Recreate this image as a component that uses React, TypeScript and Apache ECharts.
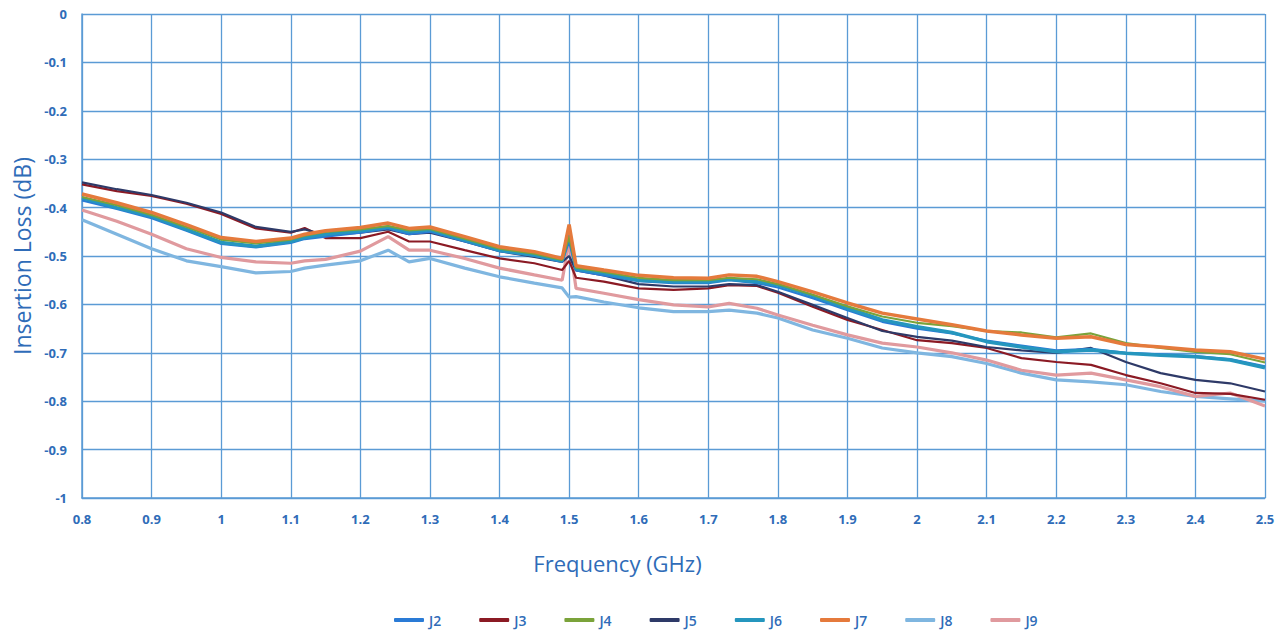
import React, { useEffect, useRef } from "react";
import * as echarts from "echarts";

const freq = [0.8,0.85,0.9,0.95,1.0,1.05,1.1,1.12,1.15,1.2,1.24,1.27,1.3,1.35,1.4,1.45,1.49,1.5,1.51,1.55,1.6,1.65,1.7,1.73,1.77,1.8,1.85,1.9,1.95,2.0,2.05,2.1,2.15,2.2,2.25,2.3,2.35,2.4,2.45,2.5];

const J2 = [-0.385,-0.403,-0.422,-0.448,-0.475,-0.482,-0.473,-0.465,-0.46,-0.452,-0.443,-0.455,-0.45,-0.47,-0.49,-0.5,-0.512,-0.47,-0.53,-0.54,-0.552,-0.556,-0.556,-0.55,-0.556,-0.565,-0.587,-0.612,-0.636,-0.65,-0.66,-0.675,-0.685,-0.695,-0.692,-0.7,-0.703,-0.707,-0.713,-0.728];
const J3 = [-0.352,-0.366,-0.376,-0.392,-0.413,-0.443,-0.452,-0.442,-0.463,-0.463,-0.45,-0.47,-0.47,-0.488,-0.505,-0.515,-0.529,-0.51,-0.545,-0.553,-0.567,-0.57,-0.567,-0.56,-0.562,-0.576,-0.605,-0.632,-0.653,-0.674,-0.68,-0.69,-0.711,-0.719,-0.725,-0.746,-0.763,-0.783,-0.785,-0.797];
const J4 = [-0.378,-0.395,-0.415,-0.44,-0.466,-0.474,-0.466,-0.458,-0.45,-0.445,-0.438,-0.447,-0.444,-0.464,-0.485,-0.495,-0.508,-0.46,-0.524,-0.533,-0.545,-0.55,-0.55,-0.545,-0.548,-0.558,-0.58,-0.604,-0.625,-0.638,-0.645,-0.655,-0.658,-0.668,-0.66,-0.68,-0.69,-0.698,-0.703,-0.72];
const J5 = [-0.348,-0.362,-0.374,-0.39,-0.41,-0.44,-0.45,-0.445,-0.457,-0.452,-0.445,-0.455,-0.452,-0.47,-0.49,-0.502,-0.512,-0.5,-0.53,-0.54,-0.558,-0.563,-0.563,-0.558,-0.56,-0.574,-0.601,-0.628,-0.655,-0.667,-0.675,-0.688,-0.695,-0.7,-0.69,-0.719,-0.742,-0.756,-0.763,-0.78];
const J6 = [-0.38,-0.4,-0.418,-0.445,-0.472,-0.48,-0.47,-0.462,-0.455,-0.448,-0.44,-0.45,-0.446,-0.467,-0.488,-0.498,-0.51,-0.45,-0.527,-0.535,-0.55,-0.553,-0.553,-0.548,-0.553,-0.56,-0.582,-0.608,-0.632,-0.646,-0.658,-0.677,-0.688,-0.698,-0.694,-0.701,-0.705,-0.708,-0.715,-0.731];
const J7 = [-0.372,-0.39,-0.41,-0.435,-0.462,-0.47,-0.463,-0.455,-0.448,-0.441,-0.432,-0.443,-0.44,-0.46,-0.481,-0.491,-0.505,-0.435,-0.52,-0.529,-0.54,-0.545,-0.546,-0.539,-0.542,-0.553,-0.574,-0.597,-0.618,-0.63,-0.642,-0.655,-0.663,-0.67,-0.667,-0.683,-0.688,-0.694,-0.698,-0.713];
const J8 = [-0.425,-0.455,-0.485,-0.51,-0.522,-0.535,-0.532,-0.525,-0.519,-0.51,-0.488,-0.512,-0.505,-0.525,-0.543,-0.556,-0.566,-0.585,-0.584,-0.595,-0.607,-0.615,-0.615,-0.612,-0.618,-0.628,-0.653,-0.67,-0.69,-0.7,-0.708,-0.722,-0.742,-0.756,-0.76,-0.766,-0.78,-0.79,-0.795,-0.8];
const J9 = [-0.405,-0.428,-0.455,-0.485,-0.503,-0.512,-0.515,-0.51,-0.507,-0.49,-0.46,-0.488,-0.488,-0.505,-0.525,-0.539,-0.55,-0.47,-0.567,-0.577,-0.59,-0.601,-0.605,-0.598,-0.608,-0.622,-0.643,-0.663,-0.68,-0.688,-0.7,-0.715,-0.736,-0.746,-0.742,-0.756,-0.77,-0.79,-0.783,-0.81];

const seriesNames = ["J2","J3","J4","J5","J6","J7","J8","J9"];
const seriesValues = [J2,J3,J4,J5,J6,J7,J8,J9];
const seriesColors = ["#2a7bd6","#8b1a24","#7ba33a","#2e3a68","#2596be","#e57a3c","#7fb6e0","#e09a9e"];
const seriesWidths = [2.2,2.2,2.2,2.2,3.5,3.5,3.2,3.2];
const drawOrder = [6, 7, 1, 3, 0, 4, 2, 5];

const textBlue = "#2f6cb8";
const gridBlue = "#5b9bd5";

export default function App() {
  const ref = useRef<HTMLDivElement>(null);
  useEffect(() => {
    if (!ref.current) return;
    const chart = echarts.init(ref.current, undefined, { renderer: "svg" });
    const series = seriesNames.map((name, i) => ({
      name,
      type: "line",
      data: freq.map((f, k) => [f, seriesValues[i][k]]),
      symbol: "none",
      smooth: false,
      z: 2 + drawOrder.indexOf(i),
      lineStyle: { color: seriesColors[i], width: seriesWidths[i] },
      itemStyle: { color: seriesColors[i] },
    }));
    chart.setOption({
      animation: false,
      backgroundColor: "#ffffff",
      textStyle: { fontFamily: "Open Sans" },
      grid: { left: 82, right: 22, top: 14, bottom: 136, containLabel: false },
      legend: {
        top: 608,
        left: 389,
        icon: "roundRect",
        itemWidth: 30,
        itemHeight: 4,
        itemGap: 38,
        textStyle: { color: textBlue, fontSize: 14, fontFamily: "Open Sans", fontWeight: 600 },
        data: seriesNames,
      },
      xAxis: {
        type: "value",
        min: 0.8,
        max: 2.5,
        interval: 0.1,
        name: "Frequency (GHz)",
        nameLocation: "middle",
        nameGap: 54,
        nameTextStyle: { color: textBlue, fontSize: 22, fontFamily: "Open Sans", padding: [0, 112, 0, 0] },
        axisLine: { show: true, onZero: false, lineStyle: { color: gridBlue, width: 1.5 } },
        axisTick: { show: false },
        axisLabel: {
          color: textBlue,
          fontSize: 13,
          fontWeight: "bold",
          margin: 14,
          formatter: (v: number) => String(Math.round(v * 10) / 10),
        },
        splitLine: { show: true, lineStyle: { color: gridBlue, width: 1.3 } },
      },
      yAxis: {
        type: "value",
        min: -1,
        max: 0,
        interval: 0.1,
        name: "Insertion Loss (dB)",
        nameLocation: "middle",
        nameGap: 48,
        nameTextStyle: { color: textBlue, fontSize: 23, fontFamily: "Open Sans" },
        axisLine: { show: true, onZero: false, lineStyle: { color: gridBlue, width: 1.5 } },
        axisTick: { show: false },
        axisLabel: {
          color: textBlue,
          fontSize: 13,
          fontWeight: "bold",
          margin: 15,
          formatter: (v: number) => String(Math.round(v * 10) / 10),
        },
        splitLine: { show: true, lineStyle: { color: gridBlue, width: 1.3 } },
      },
      series,
    });
    return () => chart.dispose();
  }, []);
  return (
    <div
      ref={ref}
      style={{ position: "absolute", left: 0, top: 0, width: 1287, height: 634 }}
    />
  );
}
